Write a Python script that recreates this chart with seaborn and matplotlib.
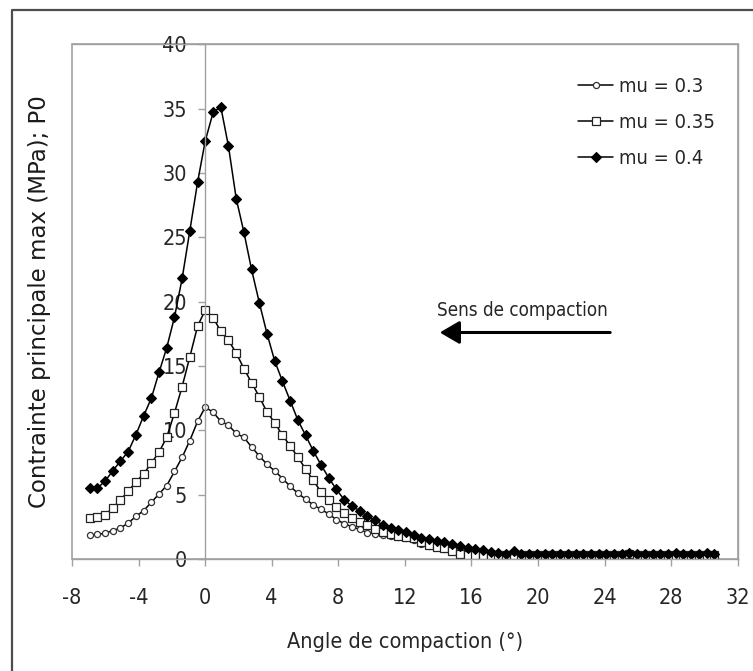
import numpy as np
import pandas as pd
import seaborn as sns
import matplotlib
matplotlib.use("Agg")
import matplotlib.pyplot as plt
from matplotlib.patches import Rectangle
from matplotlib.lines import Line2D
from matplotlib import font_manager

# angle de compaction (deg), same grid for the three runs
angle = [-6.94, -6.48, -6.01, -5.55, -5.09, -4.62, -4.16, -3.70, -3.23, -2.77,
         -2.31, -1.84, -1.38, -0.92, -0.45, 0.01, 0.48, 0.94, 1.40, 1.87,
         2.33, 2.79, 3.26, 3.72, 4.18, 4.65, 5.11, 5.57, 6.04, 6.50,
         6.97, 7.43, 7.89, 8.36, 8.82, 9.28, 9.75, 10.21, 10.67, 11.14,
         11.60, 12.06, 12.53, 12.99, 13.45, 13.92, 14.38, 14.84, 15.31, 15.77,
         16.23, 16.70, 17.16, 17.62, 18.09, 18.55, 19.01, 19.48, 19.94, 20.40,
         20.87, 21.33, 21.79, 22.26, 22.72, 23.18, 23.65, 24.11, 24.57, 25.04,
         25.50, 25.96, 26.43, 26.89, 27.35, 27.82, 28.28, 28.74, 29.21, 29.67,
         30.13, 30.60]

mu_03 = [1.83, 1.9, 2.0, 2.2, 2.4, 2.8, 3.3, 3.75, 4.4, 5.05,
         5.7, 6.8, 7.9, 9.2, 10.7, 11.8, 11.4, 10.7, 10.4, 9.75,
         9.45, 8.7, 8.0, 7.35, 6.85, 6.25, 5.65, 5.1, 4.65, 4.2,
         3.85, 3.5, 3.05, 2.75, 2.5, 2.3, 2.05, 1.95, 1.85, 1.78,
         1.72, 1.62, 1.45, 1.15, 1.0, 0.9, 0.8, 0.7, 0.6, 0.5,
         0.42, 0.35, 0.3, 0.28, 0.27, 0.28, 0.3, 0.32, 0.3, 0.31,
         0.3, 0.32, 0.31, 0.3, 0.32, 0.31, 0.3, 0.31, 0.33, 0.32,
         0.4, 0.33, 0.32, 0.33, 0.32, 0.33, 0.34, 0.33, 0.32, 0.33,
         0.34, 0.33]

mu_035 = [3.2, 3.25, 3.45, 3.95, 4.6, 5.25, 6.0, 6.6, 7.45, 8.3,
          9.45, 11.35, 13.4, 15.7, 18.1, 19.35, 18.75, 17.7, 17.0, 16.0,
          14.8, 13.7, 12.6, 11.4, 10.6, 9.6, 8.8, 7.9, 7.0, 6.1,
          5.2, 4.55, 4.0, 3.55, 3.2, 2.9, 2.6, 2.35, 2.12, 1.92,
          1.8, 1.72, 1.6, 1.35, 1.1, 0.96, 0.83, 0.6, 0.42, 0.33,
          0.32, 0.31, 0.3, 0.3, 0.29, 0.3, 0.31, 0.3, 0.3, 0.31,
          0.3, 0.31, 0.3, 0.3, 0.31, 0.3, 0.31, 0.32, 0.31, 0.32,
          0.36, 0.32, 0.31, 0.32, 0.31, 0.32, 0.33, 0.32, 0.32, 0.33,
          0.33, 0.32]

mu_04 = [5.5, 5.5, 6.05, 6.85, 7.6, 8.35, 9.65, 11.1, 12.5, 14.5,
         16.4, 18.8, 21.8, 25.5, 29.3, 32.5, 34.7, 35.15, 32.1, 28.0,
         25.4, 22.5, 19.9, 17.5, 15.4, 13.8, 12.3, 10.8, 9.6, 8.4,
         7.3, 6.3, 5.4, 4.6, 4.1, 3.75, 3.3, 3.0, 2.65, 2.4,
         2.25, 2.07, 1.86, 1.65, 1.55, 1.4, 1.32, 1.15, 1.0, 0.88,
         0.78, 0.68, 0.57, 0.44, 0.36, 0.62, 0.42, 0.4, 0.41, 0.42,
         0.4, 0.41, 0.42, 0.41, 0.4, 0.42, 0.41, 0.4, 0.42, 0.41,
         0.43, 0.42, 0.41, 0.42, 0.41, 0.42, 0.43, 0.42, 0.41, 0.42,
         0.43, 0.42]

labels = ["mu = 0.3", "mu = 0.35", "mu = 0.4"]

df = pd.DataFrame({
    "angle": angle * 3,
    "P0": mu_03 + mu_035 + mu_04,
    "serie": [labels[0]] * len(angle) + [labels[1]] * len(angle) + [labels[2]] * len(angle),
})

sns.set_style("white")
# condensed face if there is one, otherwise plain DejaVu
cond = [f for f in font_manager.fontManager.ttflist if f.name == "DejaVu Sans" and f.stretch == "condensed"]
plt.rcParams["font.family"] = ["DejaVu Sans"]
plt.rcParams["font.stretch"] = "condensed" if cond else "normal"
plt.rcParams["axes.unicode_minus"] = False

fig = plt.figure(figsize=(7.53, 6.71), dpi=100)
ax = fig.add_axes([0.0956, 0.167, 0.884, 0.767])

styles = {
    labels[0]: dict(marker="o", markersize=4.4, markerfacecolor="white", markeredgecolor="#333333", markeredgewidth=0.9),
    labels[1]: dict(marker="s", markersize=6, markerfacecolor="white", markeredgecolor="#222222", markeredgewidth=0.9),
    labels[2]: dict(marker="D", markersize=5.5, markerfacecolor="black", markeredgecolor="black", markeredgewidth=0.8),
}
for lab in labels:
    sub = df[df["serie"] == lab]
    sns.lineplot(data=sub, x="angle", y="P0", ax=ax, color="black", lw=1.1,
                 sort=False, estimator=None, label=lab, **styles[lab])

ax.set_xlim(-8, 32)
ax.set_ylim(0, 40)
ax.set_xticks(range(-8, 33, 4))
ax.set_yticks(range(0, 41, 5))

grey = "#a0a0a0"
for s in ["top", "right", "bottom"]:
    ax.spines[s].set_color(grey)
    ax.spines[s].set_linewidth(1)
ax.spines["left"].set_position(("data", 0))
ax.spines["left"].set_color(grey)
ax.spines["left"].set_linewidth(1)
ax.add_patch(Rectangle((0, 0), 1, 1, transform=ax.transAxes, fill=False,
                       ec=grey, lw=1.2, clip_on=False, zorder=0))
ax.set_axisbelow(True)

ax.tick_params(axis="x", bottom=True, direction="out", length=5, width=1,
               color=grey, pad=16, labelsize=15.5)
ax.tick_params(axis="y", left=True, direction="out", length=5, width=1,
               color=grey, pad=8, labelsize=15.5)

ax.set_xlabel("Angle de compaction (°)", fontsize=15.5)
ax.xaxis.set_label_coords(0.5, -0.142)
ax.set_ylabel("Contrainte principale max (MPa); P0", fontsize=16.5,
              fontstretch="normal", color="#1a1a1a")
ax.yaxis.set_label_coords(-0.032, 0.5, transform=ax.transAxes)

ax.text(19.07, 19.3, "Sens de compaction", fontsize=13.5, ha="center", va="center")
ax.annotate("", xy=(14.1, 17.6), xytext=(24.34, 17.6),
            arrowprops=dict(arrowstyle="-|>,head_length=0.6,head_width=0.35",
                            lw=2.2, color="black", mutation_scale=20,
                            shrinkA=0, shrinkB=0))

ax.legend(loc="upper left", bbox_to_anchor=(578 / 753, 1 - 77 / 671),
          bbox_transform=fig.transFigure, frameon=False, fontsize=14.5,
          handlelength=1.75, handletextpad=0.3, labelspacing=0.85,
          borderpad=0, borderaxespad=0)

# outer frame (only left and top edges show in the picture)
fig.add_artist(Line2D([12 / 753, 12 / 753, 1.0], [0.0, 1 - 10 / 671, 1 - 10 / 671],
                      transform=fig.transFigure, color="#4d4d4d", lw=1.6))

fig.savefig("out.png", dpi=100)
